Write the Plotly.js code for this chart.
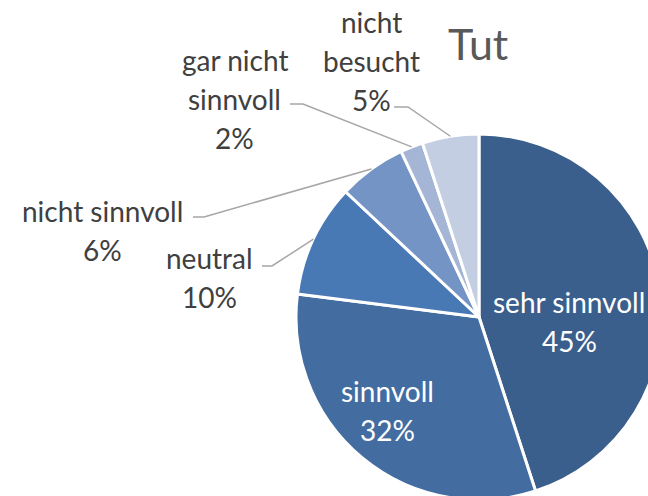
<!DOCTYPE html>
<html><head><meta charset="utf-8">
<script src="https://cdn.plot.ly/plotly-3.0.1.min.js"></script>
<style>html,body{margin:0;padding:0;overflow:hidden;background:#fff}#chart{width:700px;height:520px}</style>
</head><body><div id="chart"></div>
<script>
// ---- data ----
const categories = ['sehr sinnvoll', 'sinnvoll', 'neutral', 'nicht sinnvoll', 'gar nicht sinnvoll', 'nicht besucht'];
const values = [45, 32, 10, 6, 2, 5];
const colors = ['#3B5F8C', '#436DA0', '#4979B5', '#7494C6', '#A4B5D6', '#C3CEE3'];
const titleText = 'Tut';
const labelLines = [['sehr sinnvoll'], ['sinnvoll'], ['neutral'], ['nicht sinnvoll'], ['gar nicht', 'sinnvoll'], ['nicht', 'besucht']];

// ---- layout (pixels of a 700x520 paper, clipped to 648x496 window) ----
const W = 700, H = 520;
const cx = 479, cy = 317, R = 183;
const labelPos = [
  {x: 569, y: 302, inside: true},
  {x: 387, y: 391, inside: true},
  {x: 209, y: 258, lead: [262, 266, 272]},
  {x: 102, y: 211, lead: [193, 217, 204]},
  {x: 235, y: 60,  lead: [290, 104, 303]},
  {x: 371, y: 22,  lead: [394, 107, 408]}
];
const lineGap = 39;
const FONT = 'Lato, "Open Sans", sans-serif';

const px = x => x / W, py = y => 1 - y / H;
const total = values.reduce((a, b) => a + b, 0);

const annotations = [{
  text: titleText, x: px(478), y: py(43), xref: 'paper', yref: 'paper',
  xanchor: 'center', yanchor: 'middle', showarrow: false,
  font: {family: FONT, size: 43, color: '#595959'}
}];
const shapes = [];
let cum = 0;
categories.forEach((c, i) => {
  const pct = Math.round(values[i] / total * 100) + '%';
  const lines = labelLines[i].concat([pct]);
  const lp = labelPos[i];
  lines.forEach((t, k) => {
    annotations.push({
      text: t, x: px(lp.x), y: py(lp.y + k * lineGap), xref: 'paper', yref: 'paper',
      xanchor: 'center', yanchor: 'middle', showarrow: false,
      font: {family: FONT, size: 28, color: lp.inside ? '#ffffff' : '#404040'}
    });
  });
  const mid = (cum + values[i] / 2) / total * 2 * Math.PI;
  cum += values[i];
  if (lp.lead) {
    const ex = cx + R * Math.sin(mid), ey = cy - R * Math.cos(mid);
    shapes.push({
      type: 'path', xref: 'paper', yref: 'paper',
      path: `M ${px(lp.lead[0])} ${py(lp.lead[1])} L ${px(lp.lead[2])} ${py(lp.lead[1])} L ${px(ex)} ${py(ey)}`,
      line: {color: '#A6A6A6', width: 1.5}
    });
  }
});

const trace = {
  type: 'pie', labels: categories, values: values, sort: false,
  direction: 'clockwise', rotation: 0, textinfo: 'none', hoverinfo: 'none',
  marker: {colors: colors, line: {color: '#ffffff', width: 3}},
  domain: {x: [px(cx - R), px(cx + R)], y: [py(cy + R), py(cy - R)]},
  showlegend: false
};

Plotly.newPlot('chart', [trace], {
  width: W, height: H, margin: {l: 0, r: 0, t: 0, b: 0},
  paper_bgcolor: '#ffffff', showlegend: false,
  annotations: annotations, shapes: shapes
}, {staticPlot: true});
</script></body></html>
